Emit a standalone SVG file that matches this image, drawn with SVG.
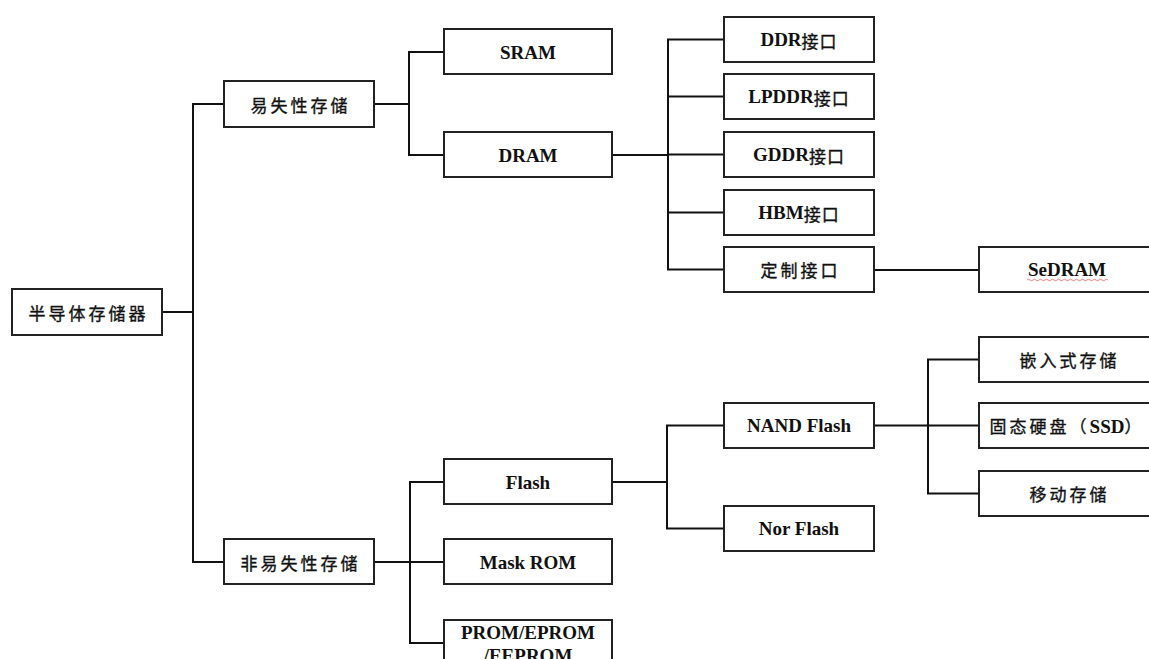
<svg xmlns="http://www.w3.org/2000/svg" width="1149" height="659" viewBox="0 0 1149 659">
  <style>
    .box { fill: #ffffff; stroke: #222222; stroke-width: 2; }
    .wire { fill: none; stroke: #111111; stroke-width: 2; stroke-linecap: square; }
    .en { font-family: "Liberation Serif", "Times New Roman", serif; font-weight: bold; font-size: 19px; fill: #111111; stroke: none; text-anchor: middle; dominant-baseline: central; }
    .cn { font-family: "Noto Sans CJK SC", "Noto Sans CJK JP", sans-serif; font-size: 17px; letter-spacing: 3px; fill: #111111; stroke: #111111; stroke-width: 0.35; text-anchor: middle; dominant-baseline: central; }
    .cj { font-family: "Noto Sans CJK SC", "Noto Sans CJK JP", sans-serif; font-weight: normal; font-size: 17px; letter-spacing: 1px; stroke: #111111; stroke-width: 0.35; }
  </style>
  <rect width="1149" height="659" fill="#ffffff"/>

  <!-- connectors -->
  <g id="connectors" class="wire">
    <!-- root -->
    <path d="M162 312 H193 M193 104 V562 M193 104 H224 M193 562 H224"/>
    <!-- volatile -->
    <path d="M374 104 H409 M409 52 V155 M409 52 H444 M409 155 H444"/>
    <!-- non-volatile -->
    <path d="M374 562 H410 M410 482 V643 M410 482 H444 M410 562 H444 M410 643 H444"/>
    <!-- DRAM interfaces -->
    <path d="M612 155 H668 M668 39.5 V269.5 M668 39.5 H724 M668 96.5 H724 M668 154.5 H724 M668 212.5 H724 M668 269.5 H724"/>
    <!-- custom interface -->
    <path d="M874 270 H979"/>
    <!-- Flash -->
    <path d="M612 482 H667 M667 425.5 V528.5 M667 425.5 H724 M667 528.5 H724"/>
    <!-- NAND -->
    <path d="M874 425.5 H928 M928 359.5 V493.5 M928 359.5 H979 M928 425.5 H979 M928 493.5 H979"/>
  </g>

  <g id="root">
    <rect class="box" x="12" y="289" width="150" height="46"/>
    <text class="cn" x="88.5" y="312">半导体存储器</text>
  </g>
  <g id="volatile">
    <rect class="box" x="224" y="81" width="150" height="46"/>
    <text class="cn" x="300.5" y="104">易失性存储</text>
  </g>
  <g id="nonvolatile">
    <rect class="box" x="224" y="539" width="150" height="45"/>
    <text class="cn" x="300.5" y="562">非易失性存储</text>
  </g>

  <g id="sram">
    <rect class="box" x="444" y="29" width="168" height="45"/>
    <text class="en" x="528" y="52">SRAM</text>
  </g>
  <g id="dram">
    <rect class="box" x="444" y="132" width="168" height="45"/>
    <text class="en" x="528" y="155">DRAM</text>
  </g>
  <g id="flash">
    <rect class="box" x="444" y="459" width="168" height="45"/>
    <text class="en" x="528" y="482">Flash</text>
  </g>
  <g id="maskrom">
    <rect class="box" x="444" y="539" width="168" height="45"/>
    <text class="en" x="528" y="562">Mask ROM</text>
  </g>
  <g id="prom">
    <rect class="box" x="444" y="620" width="168" height="46"/>
    <text class="en" x="528" y="632">PROM/EPROM</text>
    <text class="en" x="528" y="655">/EEPROM</text>
  </g>

  <g id="ddr">
    <rect class="box" x="724" y="17" width="150" height="45"/>
    <text class="en" x="799" y="39.5">DDR<tspan class="cj">接口</tspan></text>
  </g>
  <g id="lpddr">
    <rect class="box" x="724" y="74" width="150" height="45"/>
    <text class="en" x="799" y="96.5">LPDDR<tspan class="cj">接口</tspan></text>
  </g>
  <g id="gddr">
    <rect class="box" x="724" y="132" width="150" height="45"/>
    <text class="en" x="799" y="154.5">GDDR<tspan class="cj">接口</tspan></text>
  </g>
  <g id="hbm">
    <rect class="box" x="724" y="190" width="150" height="45"/>
    <text class="en" x="799" y="212.5">HBM<tspan class="cj">接口</tspan></text>
  </g>
  <g id="custom">
    <rect class="box" x="724" y="247" width="150" height="45"/>
    <text class="cn" x="800.5" y="269.5">定制接口</text>
  </g>
  <g id="sedram">
    <rect class="box" x="979" y="247" width="176" height="45"/>
    <text class="en" x="1067" y="269.5">SeDRAM</text>
    <!-- spell-check squiggle under the word -->
    <path d="M1027 280 q1.5 -1.5 3 0 t3 0 t3 0 t3 0 t3 0 t3 0 t3 0 t3 0 t3 0 t3 0 t3 0 t3 0 t3 0 t3 0 t3 0 t3 0 t3 0 t3 0 t3 0 t3 0 t3 0 t3 0 t3 0 t3 0 t3 0 t3 0 t3 0" fill="none" stroke="#e06060" stroke-width="0.8"/>
  </g>

  <g id="nand">
    <rect class="box" x="724" y="403" width="150" height="45"/>
    <text class="en" x="799" y="425.5">NAND Flash</text>
  </g>
  <g id="nor">
    <rect class="box" x="724" y="506" width="150" height="45"/>
    <text class="en" x="799" y="528.5">Nor Flash</text>
  </g>
  <g id="embedded">
    <rect class="box" x="979" y="337" width="176" height="45"/>
    <text class="cn" x="1069.5" y="359.5">嵌入式存储</text>
  </g>
  <g id="ssd">
    <rect class="box" x="979" y="403" width="176" height="45"/>
    <text class="cn" x="1067" y="425.5">固态硬盘（<tspan class="en" style="letter-spacing:0">SSD</tspan>）</text>
  </g>
  <g id="mobile">
    <rect class="box" x="979" y="471" width="176" height="45"/>
    <text class="cn" x="1069.5" y="493.5">移动存储</text>
  </g>
</svg>
